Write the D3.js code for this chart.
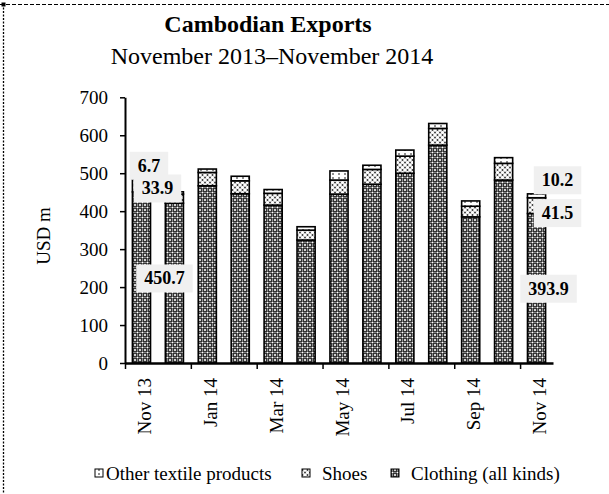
<!DOCTYPE html>
<html>
<head>
<meta charset="utf-8">
<script src="https://cdn.jsdelivr.net/npm/d3@7"></script>
<style>
  html, body { margin: 0; padding: 0; background: #fff; }
  svg { display: block; }
  text { font-family: "Liberation Serif", "Times New Roman", serif; fill: #000; }
</style>
</head>
<body>
<svg id="chart" width="609" height="494"></svg>
<script>
// Monthly Cambodian exports, USD m
const months = ["Nov 13","Dec 13","Jan 14","Feb 14","Mar 14","Apr 14","May 14",
                "Jun 14","Jul 14","Aug 14","Sep 14","Oct 14","Nov 14"];
const clothing = [450.7, 421, 467, 446, 416, 324, 445, 471, 500, 574, 385, 482, 393.9];
const shoes    = [33.9, 24, 35, 34, 31, 26, 37, 39, 45, 44, 28, 44, 41.5];
const other    = [6.7, 6, 9, 12, 10, 9, 24, 11, 16, 13, 14, 15, 10.2];
const seriesNames = ["Other textile products", "Shoes", "Clothing (all kinds)"];
const yTicks = [0, 100, 200, 300, 400, 500, 600, 700];
const xTickLabels = ["Nov 13","Jan 14","Mar 14","May 14","Jul 14","Sep 14","Nov 14"];

// value labels on the first and last month: [month index, series key]
const valueLabels = [
  { i: 0,  key: "other",    dx: 7.5, dy: -12 },
  { i: 0,  key: "shoes",    dx: 16,  dy: 3 },
  { i: 0,  key: "clothing", dx: 23,  dy: 1 },
  { i: 12, key: "other",    dx: 21,  dy: -15.5 },
  { i: 12, key: "shoes",    dx: 21,  dy: 7.5 },
  { i: 12, key: "clothing", dx: 12,  dy: 0.5 }
];

const svg = d3.select("#chart");
const margin = { left: 125, right: 553, top: 97.3, bottom: 363 };

// ---- fill patterns ----
const defs = svg.append("defs");
function makePattern(id, size, bg, dots) {
  const p = defs.append("pattern").attr("id", id)
    .attr("patternUnits", "userSpaceOnUse").attr("width", size).attr("height", size);
  p.append("rect").attr("width", size).attr("height", size).attr("fill", bg);
  dots.forEach(d => p.append("circle").attr("cx", d[0]).attr("cy", d[1]).attr("r", d[2]).attr("fill", d[3]));
}
const s = 5, h = 2.5;
makePattern("pat-clothing", s, "#111", [
  [0,0,1.1,"#fff"],[s,0,1.1,"#fff"],[0,s,1.1,"#fff"],[s,s,1.1,"#fff"],[h,h,1.1,"#fff"],
  [h,0,0.9,"#999"],[0,h,0.9,"#999"],[s,h,0.9,"#999"],[h,s,0.9,"#999"]
]);
makePattern("pat-shoes", s, "#bdbdbd", [
  [0,0,1.5,"#fff"],[s,0,1.5,"#fff"],[0,s,1.5,"#fff"],[s,s,1.5,"#fff"],[h,h,1.5,"#fff"],
  [h,0,0.7,"#000"],[0,h,0.7,"#000"],[s,h,0.7,"#000"],[h,s,0.7,"#000"]
]);
(function () {
  const p = defs.append("pattern").attr("id", "pat-other")
    .attr("patternUnits", "userSpaceOnUse").attr("width", 6).attr("height", 4);
  p.append("rect").attr("width", 6).attr("height", 4).attr("fill", "#fff");
  p.append("circle").attr("cx", 3).attr("cy", 2).attr("r", 0.8).attr("fill", "#000");
})();
const fills = { clothing: "url(#pat-clothing)", shoes: "url(#pat-shoes)", other: "url(#pat-other)" };

// ---- page frame ----
svg.append("line").attr("x1", 0).attr("x2", 609).attr("y1", 4.5).attr("y2", 4.5)
  .attr("stroke", "#000").attr("stroke-width", 1).attr("stroke-dasharray", "4,2");
svg.append("line").attr("x1", 3.5).attr("x2", 3.5).attr("y1", 4).attr("y2", 494)
  .attr("stroke", "#000").attr("stroke-width", 1.3).attr("stroke-dasharray", "2,1.5");
svg.append("rect").attr("x", 1.5).attr("y", 2.5).attr("width", 4).attr("height", 4).attr("fill", "#000");

// ---- titles ----
svg.append("text").attr("x", 268).attr("y", 32).attr("text-anchor", "middle")
  .style("font-size", "24px").style("font-weight", "bold").text("Cambodian Exports");
svg.append("text").attr("x", 272).attr("y", 64).attr("text-anchor", "middle")
  .style("font-size", "24px").text("November 2013\u2013November 2014");

// ---- scales ----
const x = d3.scaleBand().domain(months).range([margin.left, margin.right])
  .paddingInner(0.45).paddingOuter(0.225);
const y = d3.scaleLinear().domain([0, 700]).range([margin.bottom, margin.top]);
const xIdx = d3.scaleLinear().domain([0, months.length]).range([margin.left, margin.right]);

// ---- stacked bars ----
const table = months.map((m, i) => ({ month: m, clothing: clothing[i], shoes: shoes[i], other: other[i] }));
const stack = d3.stack().keys(["clothing", "shoes", "other"])(table);
const layers = svg.append("g").selectAll("g").data(stack).join("g")
  .attr("fill", d => fills[d.key]);
layers.selectAll("rect").data(d => d).join("rect")
  .attr("x", d => x(d.data.month))
  .attr("width", x.bandwidth())
  .attr("y", d => y(d[1]))
  .attr("height", d => y(d[0]) - y(d[1]))
  .attr("stroke", "#000").attr("stroke-width", 1.6);

// ---- axes ----
const yAxis = svg.append("g").attr("transform", `translate(${margin.left},0)`)
  .call(d3.axisLeft(y).tickValues(yTicks).tickSize(5).tickSizeOuter(0).tickPadding(12));
yAxis.select(".domain").attr("stroke-width", 2);
yAxis.selectAll(".tick line").attr("stroke-width", 1.5);
yAxis.selectAll("text").style("font-size", "19px").style("font-family", "Liberation Serif, serif");

// boundary ticks every two months
const xTickAxis = svg.append("g").attr("transform", `translate(0,${margin.bottom})`)
  .call(d3.axisBottom(xIdx).tickValues(d3.range(0, months.length, 2)).tickSize(6)
    .tickSizeOuter(0).tickFormat(""));
xTickAxis.select(".domain").attr("stroke-width", 2.5);
xTickAxis.selectAll(".tick line").attr("stroke-width", 1.5);

// month labels under every other bar
const xLabelAxis = svg.append("g").attr("transform", `translate(0,${margin.bottom})`)
  .call(d3.axisBottom(x).tickValues(xTickLabels).tickSize(0));
xLabelAxis.select(".domain").remove();
xLabelAxis.selectAll("text")
  .attr("transform", "rotate(-90)")
  .attr("text-anchor", "end")
  .attr("x", -15).attr("y", 9.5).attr("dy", 0)
  .style("font-size", "19px").style("font-family", "Liberation Serif, serif");

// y axis title
svg.append("text").attr("transform", "translate(50,236) rotate(-90)")
  .attr("text-anchor", "middle").style("font-size", "19px").text("USD m");

// ---- value labels ----
const seriesVals = { clothing, shoes, other };
const labelG = svg.append("g");
valueLabels.forEach(l => {
  const layer = stack.find(st => st.key === l.key)[l.i];
  const cx = x(months[l.i]) + x.bandwidth() / 2 + l.dx;
  const cy = (y(layer[0]) + y(layer[1])) / 2 + l.dy;
  const g = labelG.append("g");
  const rect = g.append("rect").attr("fill", "#f0f0f0");
  const t = g.append("text").attr("x", cx).attr("y", cy + 6).attr("text-anchor", "middle")
    .style("font-size", "18px").style("font-weight", "bold").text(seriesVals[l.key][l.i]);
  const bb = t.node().getBBox();
  rect.attr("x", bb.x - 8).attr("width", bb.width + 16)
    .attr("y", cy - 14).attr("height", 28);
});

// ---- legend ----
const legendItems = [
  { name: seriesNames[0], fill: fills.other, x: 95 },
  { name: seriesNames[1], fill: fills.shoes, x: 302 },
  { name: seriesNames[2], fill: fills.clothing, x: 391 }
];
const lg = svg.append("g");
legendItems.forEach((it, i) => {
  lg.append("rect").attr("x", it.x).attr("y", 469).attr("width", 8).attr("height", 8)
    .attr("fill", it.fill).attr("stroke", "#000").attr("stroke-width", 1);
  lg.append("text").attr("x", it.x + (i === 0 ? 11 : 20)).attr("y", 480)
    .style("font-size", "19px").text(it.name);
});
</script>
</body>
</html>
